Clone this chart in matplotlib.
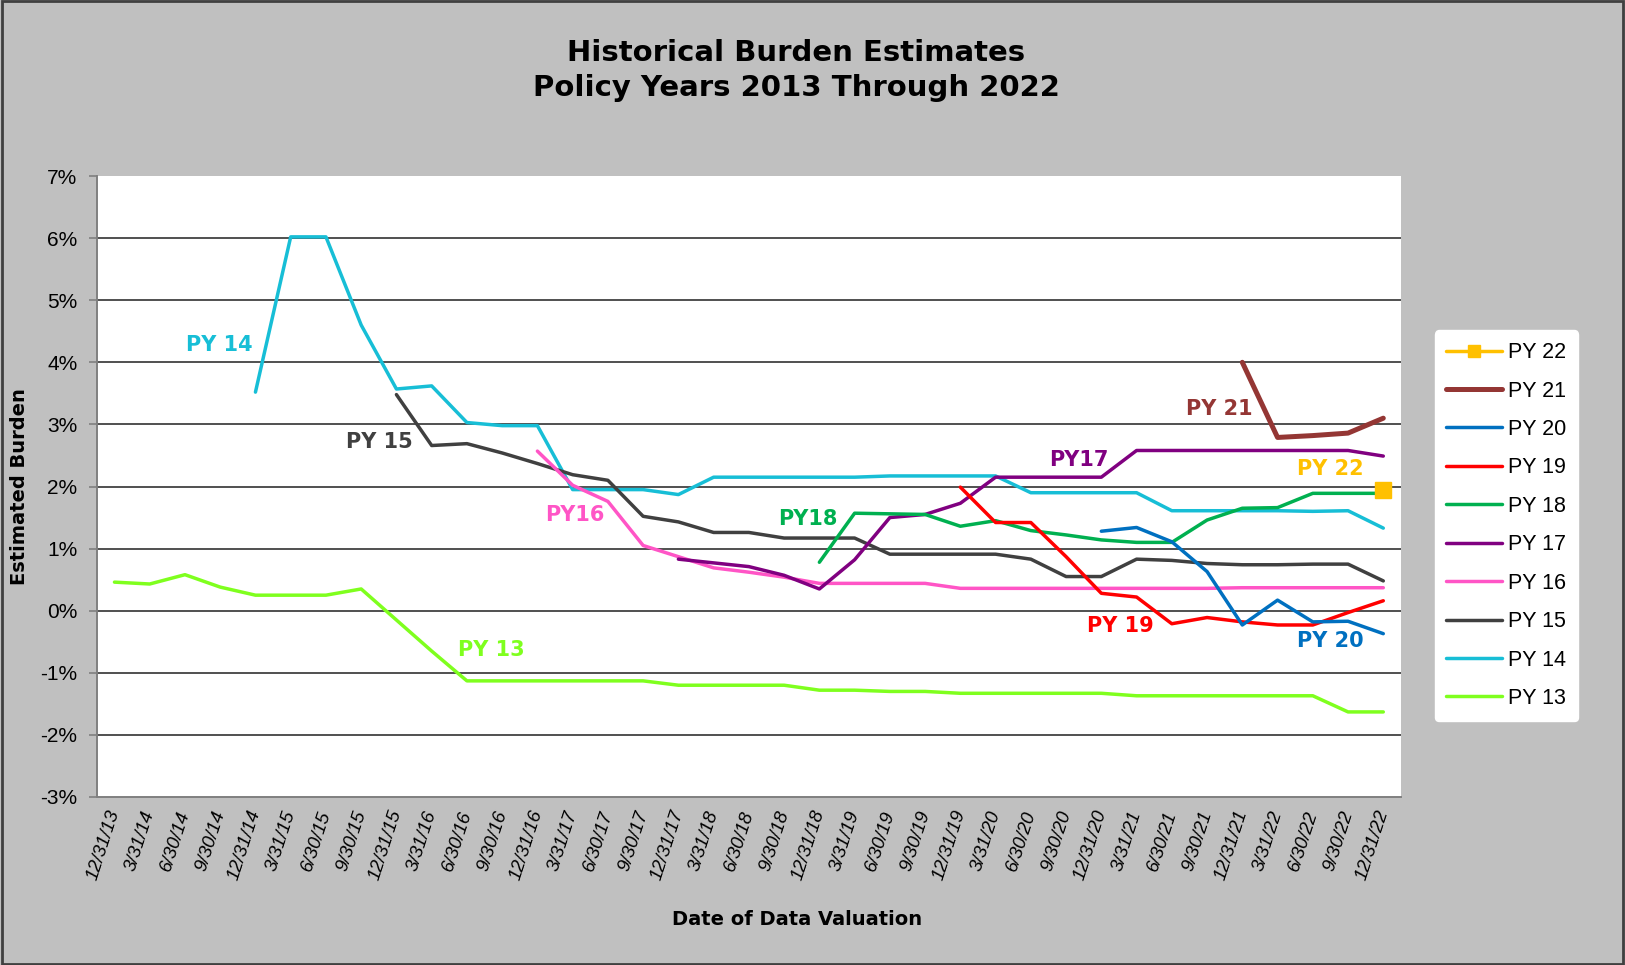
import numpy as np
import matplotlib.pyplot as plt
from matplotlib.patches import Rectangle
from matplotlib.ticker import FuncFormatter

# quarterly valuation dates
dates = ["12/31/13", "3/31/14", "6/30/14", "9/30/14",
         "12/31/14", "3/31/15", "6/30/15", "9/30/15",
         "12/31/15", "3/31/16", "6/30/16", "9/30/16",
         "12/31/16", "3/31/17", "6/30/17", "9/30/17",
         "12/31/17", "3/31/18", "6/30/18", "9/30/18",
         "12/31/18", "3/31/19", "6/30/19", "9/30/19",
         "12/31/19", "3/31/20", "6/30/20", "9/30/20",
         "12/31/20", "3/31/21", "6/30/21", "9/30/21",
         "12/31/21", "3/31/22", "6/30/22", "9/30/22",
         "12/31/22"]

# estimated burden (%), each series runs up to the last valuation date
py13 = [0.46, 0.43, 0.58, 0.38, 0.25, 0.25, 0.25, 0.35, -0.15, -0.65,
        -1.13, -1.13, -1.13, -1.13, -1.13, -1.13, -1.20, -1.20, -1.20, -1.20,
        -1.28, -1.28, -1.30, -1.30, -1.33, -1.33, -1.33, -1.33, -1.33, -1.37,
        -1.37, -1.37, -1.37, -1.37, -1.37, -1.63, -1.63]
py14 = [3.52, 6.02, 6.02, 4.60, 3.57, 3.62, 3.03, 2.98, 2.98, 1.95,
        1.95, 1.95, 1.87, 2.15, 2.15, 2.15, 2.15, 2.15, 2.17, 2.17,
        2.17, 2.17, 1.90, 1.90, 1.90, 1.90, 1.61, 1.61, 1.61, 1.61,
        1.60, 1.61, 1.33]
py15 = [3.48, 2.66, 2.69, 2.54, 2.37, 2.19, 2.10, 1.52, 1.43, 1.26,
        1.26, 1.17, 1.17, 1.17, 0.91, 0.91, 0.91, 0.91, 0.83, 0.55,
        0.55, 0.83, 0.81, 0.76, 0.74, 0.74, 0.75, 0.75, 0.48]
py16 = [2.57, 2.02, 1.76, 1.05, 0.87, 0.69, 0.62, 0.54, 0.44, 0.44,
        0.44, 0.44, 0.36, 0.36, 0.36, 0.36, 0.36, 0.36, 0.36, 0.36,
        0.37, 0.37, 0.37, 0.37, 0.37]
py17 = [0.83, 0.77, 0.71, 0.57, 0.35, 0.82, 1.50, 1.55, 1.73, 2.15,
        2.15, 2.15, 2.15, 2.58, 2.58, 2.58, 2.58, 2.58, 2.58, 2.58,
        2.49]
py18 = [0.78, 1.57, 1.56, 1.55, 1.36, 1.45, 1.29, 1.22, 1.14, 1.10,
        1.10, 1.46, 1.65, 1.66, 1.89, 1.89, 1.89]
py19 = [1.99, 1.42, 1.42, 0.87, 0.28, 0.22, -0.21, -0.11, -0.18, -0.23,
        -0.23, -0.03, 0.16]
py20 = [1.28, 1.34, 1.11, 0.63, -0.23, 0.17, -0.18, -0.17, -0.37]
py21 = [4.00, 2.79, 2.82, 2.86, 3.10]
py22 = [1.95]

names = ["PY 13", "PY 14", "PY 15", "PY 16", "PY 17",
         "PY 18", "PY 19", "PY 20", "PY 21", "PY 22"]
colors = ["#7FFF1E", "#17BED6", "#404040", "#FF55C6", "#800080",
          "#00B050", "#FF0000", "#0070C0", "#943634", "#FFC000"]
series = [py13, py14, py15, py16, py17, py18, py19, py20, py21, py22]

# in-chart labels: text, x (category index), y (%)
labels = ["PY 14", "PY 15", "PY16", "PY18", "PY17",
          "PY 21", "PY 22", "PY 19", "PY 20", "PY 13"]
label_x = [2.98, 7.53, 13.07, 19.66, 27.36, 31.34, 34.49, 28.55, 34.49, 10.68]
label_y = [4.28, 2.72, 1.54, 1.48, 2.43, 3.25, 2.28, -0.25, -0.49, -0.63]
label_c = ["#17BED6", "#404040", "#FF55C6", "#00B050", "#800080",
           "#943634", "#FFC000", "#FF0000", "#0070C0", "#7FFF1E"]

fig = plt.figure(figsize=(16.25, 9.65), dpi=100, facecolor="#C0C0C0")
fig.patches.append(Rectangle((0.001, 0.001), 0.998, 0.998, transform=fig.transFigure,
                             fill=False, edgecolor="#404040", lw=2))
ax = fig.add_axes([0.0596, 0.1741, 0.8025, 0.6435])
ax.set_facecolor("white")

n = len(dates)
handles = []
for name, vals, c in zip(names, series, colors):
    x = np.arange(n - len(vals), n)
    lw = 3.6 if name == "PY 21" else 2.5
    if name == "PY 22":
        h, = ax.plot(x, vals, color=c, lw=lw, marker="s", markersize=12,
                     solid_capstyle="round", label=name)
    else:
        h, = ax.plot(x, vals, color=c, lw=lw, solid_capstyle="round", label=name)
    handles.append(h)

for t, x, y, c in zip(labels, label_x, label_y, label_c):
    ax.text(x, y, t, color=c, fontsize=15, fontweight="bold",
            family="DejaVu Sans", ha="center", va="center")

ax.set_xlim(-0.5, n - 0.5)
ax.set_ylim(-3, 7)
ax.set_yticks(range(-3, 8))
for yv in range(-2, 7):
    ax.axhline(yv, color="#202020", lw=1.1, zorder=0)
ax.yaxis.set_major_formatter(FuncFormatter(lambda v, p: f"{v:.0f}%"))
ax.set_xticks(np.arange(n))
ax.set_xticklabels(dates, rotation=72, rotation_mode="anchor", ha="right", va="center",
                   fontstyle="italic", family="Liberation Sans", fontsize=13.5)
ax.tick_params(axis="x", length=0, pad=10)
ax.tick_params(axis="y", length=6, width=1.2, color="#808080", pad=8)
for lab in ax.get_yticklabels():
    lab.set_family("Liberation Sans")
    lab.set_fontsize(15)
for s in ["top", "right"]:
    ax.spines[s].set_visible(False)
ax.spines["left"].set_color("#808080")
ax.spines["bottom"].set_color("#808080")
ax.spines["left"].set_linewidth(1.4)
ax.spines["bottom"].set_linewidth(1.4)

ax.set_xlabel("Date of Data Valuation", fontsize=14, fontweight="bold",
              family="DejaVu Sans")
ax.xaxis.set_label_coords(0.537, -0.182)
ax.set_ylabel("Estimated Burden", fontsize=14, fontweight="bold", family="DejaVu Sans")
ax.yaxis.set_label_coords(-0.052, 0.5)

fig.text(0.49, 0.927, "Historical Burden Estimates\nPolicy Years 2013 Through 2022",
         ha="center", va="center", fontsize=21, fontweight="bold",
         family="DejaVu Sans", linespacing=1.33)

leg = fig.legend(handles[::-1], names[::-1], loc="center left",
                 bbox_to_anchor=(0.8828, 0.4554), borderaxespad=0,
                 frameon=True, fancybox=True,
                 prop={"family": "Liberation Sans", "size": 15.5},
                 handlelength=2.6, labelspacing=0.81, borderpad=0.55,
                 handletextpad=0.25, markerscale=0.7)
leg.get_frame().set_facecolor("white")
leg.get_frame().set_edgecolor("white")
leg.get_frame().set_alpha(1)

fig.savefig("out.png", dpi=100, facecolor=fig.get_facecolor())
